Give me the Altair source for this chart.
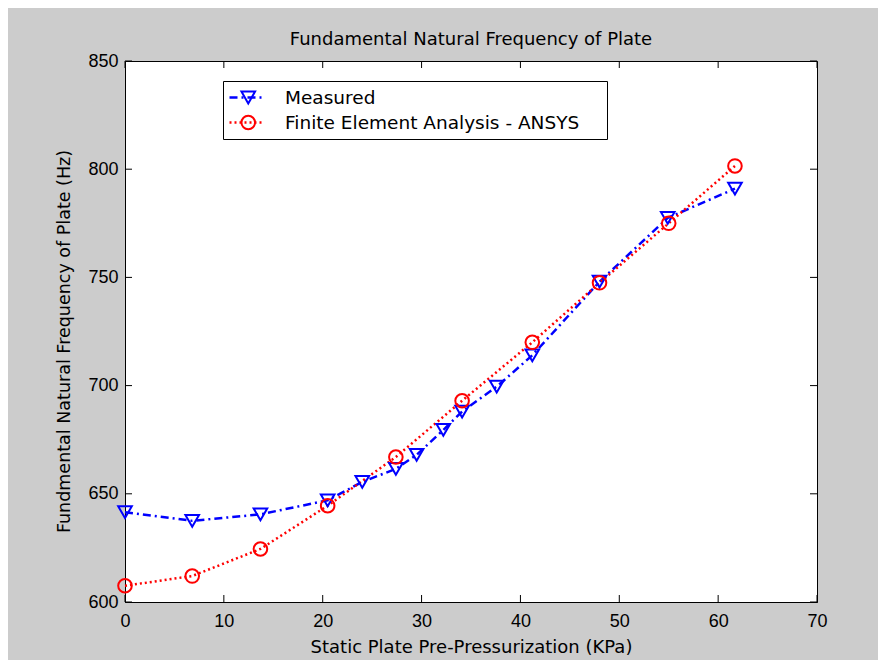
import altair as alt
import pandas as pd

# --- data ---
series_names = ["Measured", "Finite Element Analysis - ANSYS"]

measured_x = [0, 6.8, 13.7, 20.5, 24.0, 27.4, 29.5, 32.2, 34.1, 37.6, 41.2, 48.0, 54.9, 61.7]
measured_y = [641.5, 637.5, 640.5, 647, 655.5, 661.5, 668, 679.5, 688, 699.5, 714, 748, 777.5, 791]

fea_x = [0, 6.8, 13.7, 20.5, 27.4, 34.1, 41.2, 48.0, 55.0, 61.7]
fea_y = [607.5, 612, 624.5, 644.5, 667, 693, 720, 747.5, 775, 801.5]

x_ticks = [0, 10, 20, 30, 40, 50, 60, 70]
y_ticks = [600, 650, 700, 750, 800, 850]

df = pd.DataFrame({
    "x": measured_x + fea_x,
    "y": measured_y + fea_y,
    "series": [series_names[0]] * len(measured_x) + [series_names[1]] * len(fea_x),
})
xt = pd.DataFrame({"t": x_ticks})
yt = pd.DataFrame({"t": y_ticks})

W, H = 692, 541
FONT = "Liberation Sans"
HFONT = "DejaVu Sans"
TICK = 7

xscale = alt.Scale(domain=[0, 70], nice=False, zero=False)
yscale = alt.Scale(domain=[600, 850], nice=False, zero=False)

xaxis = alt.Axis(values=x_ticks, title="Static Plate Pre-Pressurization (KPa)",
                 grid=False, ticks=False, domainColor="black", labelPadding=10,
                 labelFlush=False, titlePadding=8,
                 titleFont=HFONT, titleFontSize=18)
yaxis = alt.Axis(values=y_ticks, title="Fundmental Natural Frequency of Plate (Hz)",
                 grid=False, ticks=False, domainColor="black", labelPadding=7,
                 labelFlush=False, titlePadding=14, titleY=280,
                 titleFont=HFONT, titleFontSize=17.5)

color_scale = alt.Scale(domain=series_names, range=["#0000ff", "#ff0000"])
dash_scale = alt.Scale(domain=series_names, range=[[8, 4, 2, 4], [2, 3]])
shape_scale = alt.Scale(domain=series_names, range=["triangle-down", "circle"])

LEG_X, LEG_Y = 98, 20

line_legend = alt.Legend(
    title="M", titleOrient="right", titleOpacity=0, titleFontSize=18,
    titlePadding=8,
    orient="none", legendX=LEG_X, legendY=LEG_Y,
    symbolType="stroke", symbolSize=1156, symbolStrokeWidth=2.5,
    clipHeight=23, rowPadding=2, padding=5, labelOffset=20, labelLimit=500,
    labelFont=HFONT, labelFontSize=18.5,
    strokeColor="black", fillColor="white",
)
point_legend = alt.Legend(
    title=None, orient="none", legendX=LEG_X + 11, legendY=LEG_Y,
    symbolSize=185, symbolStrokeWidth=2,
    clipHeight=23, rowPadding=2, padding=5, labelOffset=0,
    labelExpr="''", labelFont=HFONT, labelFontSize=18.5,
)

lines = alt.Chart(df).mark_line(strokeWidth=2.5).encode(
    x=alt.X("x:Q", scale=xscale, axis=xaxis),
    y=alt.Y("y:Q", scale=yscale, axis=yaxis),
    color=alt.Color("series:N", scale=color_scale, legend=line_legend),
    strokeDash=alt.StrokeDash("series:N", scale=dash_scale, legend=line_legend),
    detail="series:N",
)

points = alt.Chart(df).mark_point(filled=False, strokeWidth=2, size=185, opacity=1).encode(
    x=alt.X("x:Q", scale=xscale),
    y=alt.Y("y:Q", scale=yscale),
    color=alt.Color("series:N", scale=color_scale, legend=point_legend),
    shape=alt.Shape("series:N", scale=shape_scale, legend=point_legend),
)

tick_style = dict(color="black", strokeWidth=1)
xb = alt.Chart(xt).mark_rule(**tick_style).encode(
    x=alt.X("t:Q", scale=xscale), y=alt.value(H), y2=alt.value(H - TICK))
xtop = alt.Chart(xt).mark_rule(**tick_style).encode(
    x=alt.X("t:Q", scale=xscale), y=alt.value(0), y2=alt.value(TICK))
yl = alt.Chart(yt).mark_rule(**tick_style).encode(
    y=alt.Y("t:Q", scale=yscale), x=alt.value(0), x2=alt.value(TICK))
yr = alt.Chart(yt).mark_rule(**tick_style).encode(
    y=alt.Y("t:Q", scale=yscale), x=alt.value(W), x2=alt.value(W - TICK))

chart = alt.layer(lines, points, xb, xtop, yl, yr).resolve_legend(
    color="independent", strokeDash="independent", shape="independent"
).properties(
    width=W, height=H,
    title=alt.Title("Fundamental Natural Frequency of Plate", offset=3, frame="group"),
    background="#cccccc",
    padding={"left": 117, "top": 53, "right": 61, "bottom": 58},
    autosize=alt.AutoSizeParams(type="none"),
).configure_view(
    stroke="black", strokeWidth=1, fill="white",
).configure_axis(
    labelFont=FONT, labelFontSize=18, labelColor="black",
    titleColor="black", titleFontWeight="normal",
    domainWidth=1,
).configure_title(
    font=HFONT, fontSize=18, fontWeight="normal", color="black", anchor="middle",
).configure_legend(
    labelColor="black",
)

chart.save("out.html", embed_options={"renderer": "svg", "actions": False})
